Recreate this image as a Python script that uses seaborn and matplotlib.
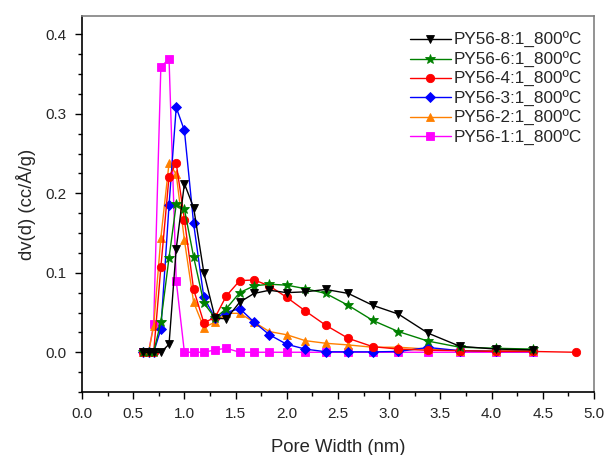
import numpy as np
import pandas as pd
import matplotlib
matplotlib.use("Agg")
import matplotlib.pyplot as plt
import seaborn as sns
from matplotlib.ticker import MultipleLocator

# ---- data ----
pore_width = [0.60, 0.65, 0.70, 0.77, 0.85, 0.92, 1.00, 1.09, 1.19, 1.30, 1.41, 1.54,
              1.68, 1.83, 2.00, 2.18, 2.38, 2.60, 2.84, 3.09, 3.38, 3.69, 4.04, 4.40, 4.82]

py56_8 = [0, 0, 0, 0, 0.010, 0.130, 0.212, 0.182, 0.100, 0.043, 0.042, 0.063, 0.074,
          0.078, 0.075, 0.076, 0.079, 0.074, 0.059, 0.048, 0.024, 0.0075, 0.004, 0.003]
py56_6 = [0, 0, 0, 0.038, 0.119, 0.186, 0.180, 0.120, 0.062, 0.043, 0.055, 0.075, 0.0835,
          0.0856, 0.0844, 0.080, 0.074, 0.059, 0.040, 0.026, 0.014, 0.0063, 0.005, 0.004]
py56_4 = [0, 0, 0, 0.107, 0.221, 0.238, 0.167, 0.079, 0.037, 0.044, 0.071, 0.090, 0.091,
          0.0835, 0.069, 0.052, 0.034, 0.0175, 0.007, 0.004, 0.0025, 0.002, 0.001, 0.001, 0.0]
py56_3 = [0, 0, 0, 0.029, 0.185, 0.308, 0.279, 0.162, 0.069, 0.043, 0.050, 0.055, 0.038,
          0.022, 0.010, 0.004, 0.0006, 0.0005, 0.0005, 0.001, 0.006, 0.002, 0.001, 0.001]
py56_2 = [0, 0, 0.033, 0.144, 0.238, 0.224, 0.141, 0.063, 0.031, 0.038, 0.049, 0.049, 0.038,
          0.026, 0.022, 0.0146, 0.0113, 0.0092, 0.0063, 0.0063, 0.004, 0.002, 0.002, 0.002]
py56_1 = [0, 0, 0.0355, 0.359, 0.369, 0.090, 0, 0, 0, 0.003, 0.005, 0, 0, 0, 0, 0, 0, 0,
          0, 0, 0, 0, 0, 0]

labels = ["PY56-8:1_800ºC", "PY56-6:1_800ºC", "PY56-4:1_800ºC",
          "PY56-3:1_800ºC", "PY56-2:1_800ºC", "PY56-1:1_800ºC"]
series = [py56_8, py56_6, py56_4, py56_3, py56_2, py56_1]
colors = ["black", "#008000", "#FF0000", "#0000FF", "#FF8000", "#FF00FF"]
markers = ["v", "*", "o", "D", "^", "s"]
msizes = [6, 7.5, 6, 5, 6, 5.5]

sns.set_style("ticks")
plt.rcParams['font.family'] = ['Liberation Sans', 'DejaVu Sans']

fig = plt.figure(figsize=(6.07, 4.55), dpi=100)
ax = fig.add_axes([82/607, 1-392/455, 512/607, 376/455])

handles = {}
# draw magenta first so black ends on top
for i in reversed(range(len(series))):
    vals = series[i]
    df = pd.DataFrame({"x": pore_width[:len(vals)], "y": vals})
    sns.lineplot(data=df, x="x", y="y", ax=ax, color=colors[i], marker=markers[i],
                 markersize=msizes[i], markeredgewidth=0.6, markeredgecolor=colors[i],
                 linewidth=1.0, label=labels[i], legend=False)
    handles[i] = ax.lines[-1]

ax.set_xlim(0, 5.0)
ax.set_ylim(-0.05, 0.423)
ax.xaxis.set_major_locator(MultipleLocator(0.5))
ax.xaxis.set_minor_locator(MultipleLocator(0.25))
ax.yaxis.set_major_locator(MultipleLocator(0.1))
ax.yaxis.set_minor_locator(MultipleLocator(0.025))
ax.tick_params(which="major", direction="out", length=5, width=1.0, labelsize=11, pad=6,
               color="black")
ax.tick_params(which="minor", direction="out", length=3, width=1.0, color="black")

for side in ["left", "bottom"]:
    ax.spines[side].set_color("black")
    ax.spines[side].set_linewidth(1.2)
for side in ["top", "right"]:
    ax.spines[side].set_visible(True)
    ax.spines[side].set_color("#808080")
    ax.spines[side].set_linewidth(1.2)

ax.set_xlabel("Pore Width (nm)", fontsize=13.3, labelpad=13)
ax.set_ylabel("dv(d) (cc/Å/g)", fontsize=13.3, labelpad=7)

leg = ax.legend([handles[i] for i in range(6)], labels, loc="upper left",
                bbox_to_anchor=(0.640, 0.957), frameon=False, fontsize=12.3,
                handlelength=2.4, handletextpad=0.2, labelspacing=0.2,
                borderpad=0, borderaxespad=0)

fig.savefig("out.png", dpi=100)
